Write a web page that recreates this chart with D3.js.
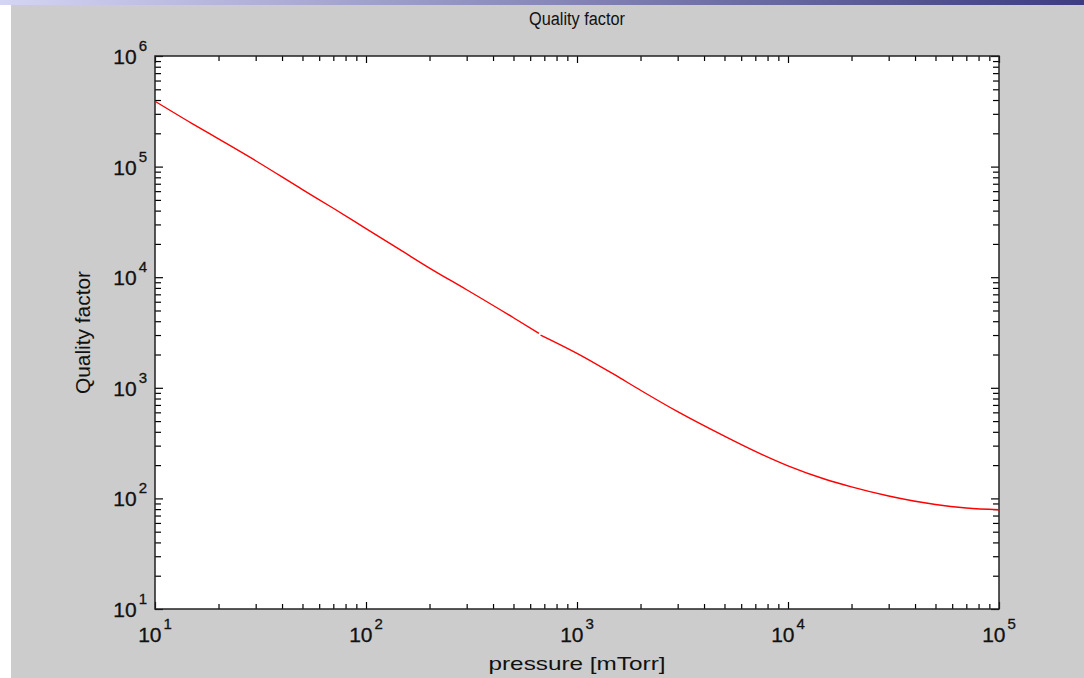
<!DOCTYPE html>
<html>
<head>
<meta charset="utf-8">
<script src="https://cdn.jsdelivr.net/npm/d3@7"></script>
<style>
  body { margin: 0; background: #ffffff; }
  svg { display: block; }
</style>
</head>
<body>
<script>
// values (pressure in mTorr, Q dimensionless)
// the curve has a small break near 660-672 mTorr so it is kept as two pieces
var pressureLow = [10, 15, 20, 30, 50, 70, 100, 150, 200, 300, 500, 660];
var qualityLow = [390000, 245000, 178000, 113000, 62000, 42000, 27500, 17000, 12100, 7700, 4300, 3100];
var pressureHigh = [672, 1000, 1500, 2000, 3000, 5000, 7000, 10000, 15000, 20000, 30000, 50000, 70000, 100000];
var qualityHigh = [3000, 2050, 1320, 950, 608, 365, 266, 197, 149, 127, 105, 88, 82, 79];

var xDomain = [10, 100000];
var yDomain = [10, 1000000];
var titleText = "Quality factor";
var xLabelText = "pressure [mTorr]";
var yLabelText = "Quality factor";

function init(){

    var w = 1084;
    var h = 678;
    var left = 155, right = 999, top = 56, bottom = 609;
    var font = "'Liberation Sans', Arial, sans-serif";

    var svg = d3.select("body")
        .append("svg")
        .attr("width", w)
        .attr("height", h);

    // window chrome: gradient strip on top, white margin on the left, grey figure
    var grad = svg.append("defs").append("linearGradient")
        .attr("id", "topbar");
    grad.append("stop").attr("offset", "0%").attr("stop-color", "#d4d4f4");
    grad.append("stop").attr("offset", "100%").attr("stop-color", "#3c3c80");

    svg.append("rect").attr("x", 11).attr("y", 5)
        .attr("width", w - 11).attr("height", h - 5)
        .attr("fill", "#cccccc");
    svg.append("rect").attr("x", 0).attr("y", 0)
        .attr("width", w).attr("height", 5)
        .attr("fill", "url(#topbar)");

    var x = d3.scaleLog().domain(xDomain).range([left, right]);
    var y = d3.scaleLog().domain(yDomain).range([bottom, top]);

    // white axes area
    svg.append("rect")
        .attr("x", left).attr("y", top)
        .attr("width", right - left).attr("height", bottom - top)
        .attr("fill", "#ffffff");

    var isMajor = function(v){ return Math.abs(Math.log10(v) - Math.round(Math.log10(v))) < 1e-9; };
    var xMajor = x.ticks().filter(isMajor);
    var xMinor = x.ticks().filter(function(v){ return !isMajor(v); });
    var yMajor = y.ticks().filter(isMajor);
    var yMinor = y.ticks().filter(function(v){ return !isMajor(v); });

    // ticks point inwards on all 4 sides, like matlab
    function addAxis(gen, vals, len, tx, ty){
        var g = svg.append("g")
            .attr("transform", "translate(" + tx + "," + ty + ")")
            .call(gen.tickValues(vals).tickSize(-len).tickFormat(""));
        g.select(".domain").remove();
        g.selectAll(".tick line").attr("stroke", "#000").attr("stroke-width", 1.2);
    }
    addAxis(d3.axisBottom(x), xMajor, 7, 0, bottom);
    addAxis(d3.axisBottom(x), xMinor, 5, 0, bottom);
    addAxis(d3.axisTop(x), xMajor, 7, 0, top);
    addAxis(d3.axisTop(x), xMinor, 5, 0, top);
    addAxis(d3.axisLeft(y), yMajor, 8, left, 0);
    addAxis(d3.axisLeft(y), yMinor, 6, left, 0);
    addAxis(d3.axisRight(y), yMajor, 8, right, 0);
    addAxis(d3.axisRight(y), yMinor, 6, right, 0);

    // frame
    svg.append("rect")
        .attr("x", left).attr("y", top)
        .attr("width", right - left).attr("height", bottom - top)
        .attr("fill", "none")
        .attr("stroke", "#222")
        .attr("stroke-width", 1.5);

    // tick labels as 10 with a raised exponent
    function powLabel(sel){
        sel.append("tspan").text("10");
        sel.append("tspan")
            .attr("dx", 2)
            .attr("dy", -13)
            .attr("font-size", 15)
            .text(function(d){ return Math.round(Math.log10(d)); });
    }

    svg.selectAll(".xlab")
        .data(xMajor)
        .enter()
        .append("text")
        .attr("class", "xlab")
        .attr("x", function(d){ return x(d); })
        .attr("y", bottom + 33)
        .attr("text-anchor", "middle")
        .attr("font-family", font)
        .attr("font-size", 21)
        .attr("fill", "#111")
        .attr("stroke", "#111")
        .attr("stroke-width", 0.3)
        .call(powLabel);

    svg.selectAll(".ylab")
        .data(yMajor)
        .enter()
        .append("text")
        .attr("class", "ylab")
        .attr("x", left - 8)
        .attr("y", function(d){ return y(d) + 8; })
        .attr("text-anchor", "end")
        .attr("font-family", font)
        .attr("font-size", 21)
        .attr("fill", "#111")
        .attr("stroke", "#111")
        .attr("stroke-width", 0.3)
        .call(powLabel);

    // the curve
    var line = d3.line()
        .x(function(d){ return x(d[0]); })
        .y(function(d){ return y(d[1]); })
        .curve(d3.curveMonotoneX);

    var pieces = [
        d3.zip(pressureLow, qualityLow),
        d3.zip(pressureHigh, qualityHigh)
    ];
    svg.selectAll(".curve")
        .data(pieces)
        .enter()
        .append("path")
        .attr("class", "curve")
        .attr("d", line)
        .attr("fill", "none")
        .attr("stroke", "#ff0000")
        .attr("stroke-width", 1.4);

    // titles
    svg.append("text")
        .attr("x", (left + right) / 2)
        .attr("y", 25)
        .attr("text-anchor", "middle")
        .attr("font-family", font)
        .attr("font-size", 18)
        .attr("textLength", 96)
        .attr("lengthAdjust", "spacingAndGlyphs")
        .attr("fill", "#111")
        .text(titleText);

    svg.append("text")
        .attr("x", (left + right) / 2)
        .attr("y", 670)
        .attr("text-anchor", "middle")
        .attr("font-family", font)
        .attr("font-size", 19)
        .attr("textLength", 177)
        .attr("lengthAdjust", "spacingAndGlyphs")
        .attr("fill", "#111")
        .text(xLabelText);

    svg.append("text")
        .attr("transform", "translate(90," + ((top + bottom) / 2) + ") rotate(-90)")
        .attr("text-anchor", "middle")
        .attr("font-family", font)
        .attr("font-size", 20)
        .attr("textLength", 123)
        .attr("lengthAdjust", "spacingAndGlyphs")
        .attr("fill", "#111")
        .text(yLabelText);
}

window.onload = init;
</script>
</body>
</html>
